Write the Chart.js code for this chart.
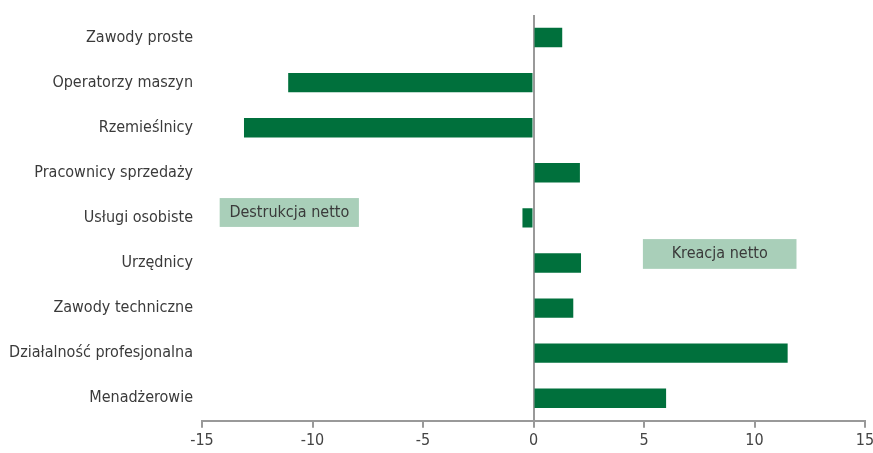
<!DOCTYPE html>
<html>
<head>
<meta charset="utf-8">
<script src="https://cdn.jsdelivr.net/npm/chart.js@4/dist/chart.umd.min.js"></script>
<style>
  html, body { margin: 0; padding: 0; background: #fff; }
  #wrap { width: 873px; height: 453px; }
</style>
</head>
<body>
<div id="wrap"><canvas id="barChart"></canvas></div>
<script>
var categories = [
    "Zawody proste",
    "Operatorzy maszyn",
    "Rzemieślnicy",
    "Pracownicy sprzedaży",
    "Usługi osobiste",
    "Urzędnicy",
    "Zawody techniczne",
    "Działalność profesjonalna",
    "Menadżerowie"
];
var netChange = [1.3, -11.1, -13.1, 2.1, -0.5, 2.15, 1.8, 11.5, 6.0];
var xTicks = [-15, -10, -5, 0, 5, 10, 15];

// label boxes, in axis units (x = value, y = category index)
var boxes = [
    { text: "Destrukcja netto", xMin: -14.2, xMax: -7.9, yMin: 3.56, yMax: 4.2 },
    { text: "Kreacja netto", xMin: 4.95, xMax: 11.9, yMin: 4.47, yMax: 5.13 }
];

var fontName = "'Liberation Sans Narrow', 'DejaVu Sans Condensed', sans-serif";

var boxPlugin = {
    id: 'labelBoxes',
    beforeDatasetsDraw: function (chart) {
        var c = chart.ctx;
        var x = chart.scales.x, y = chart.scales.y;
        c.save();
        boxes.forEach(function (b) {
            var l = x.getPixelForValue(b.xMin), r = x.getPixelForValue(b.xMax);
            var t = y.getPixelForValue(b.yMin), btm = y.getPixelForValue(b.yMax);
            c.fillStyle = '#a9cfb9';
            c.fillRect(l, t, r - l, btm - t);
            c.fillStyle = '#3a3a3a';
            c.font = '16px ' + fontName;
            c.textAlign = 'center';
            c.textBaseline = 'middle';
            c.fillText(b.text, (l + r) / 2, (t + btm) / 2);
        });
        c.restore();
    }
};

var ctx = document.getElementById('barChart');
var myChart = new Chart(ctx, {
    type: 'bar',
    data: {
        labels: categories,
        datasets: [{
            data: netChange,
            backgroundColor: '#00703c',
            borderWidth: 0,
            barPercentage: 0.86,
            categoryPercentage: 0.5
        }]
    },
    plugins: [boxPlugin],
    options: {
        indexAxis: 'y',
        responsive: true,
        maintainAspectRatio: false,
        animation: false,
        layout: { padding: { top: 15, right: 0, left: 0, bottom: 0 } },
        plugins: {
            legend: { display: false },
            tooltip: { enabled: false }
        },
        scales: {
            x: {
                min: -15,
                max: 15,
                afterBuildTicks: function (axis) {
                    axis.ticks = xTicks.map(function (v) { return { value: v }; });
                },
                afterFit: function (axis) { axis.paddingRight = 8; },
                border: { display: true, color: '#999999', width: 2 },
                grid: {
                    color: function (c) { return c.tick && c.tick.value === 0 ? '#999999' : 'rgba(0,0,0,0)'; },
                    lineWidth: 2,
                    tickColor: '#999999',
                    tickLength: 7,
                    drawTicks: true
                },
                ticks: {
                    color: '#444444',
                    font: { family: fontName, size: 16 },
                    padding: 3
                }
            },
            y: {
                afterFit: function (axis) {
                    axis.width = 202;
                    axis.paddingTop = 0;
                    axis.paddingBottom = 0;
                },
                border: { display: false },
                grid: { display: false, drawTicks: false },
                ticks: {
                    color: '#3a3a3a',
                    font: { family: fontName, size: 16 },
                    padding: 9
                }
            }
        }
    }
});
</script>
</body>
</html>
